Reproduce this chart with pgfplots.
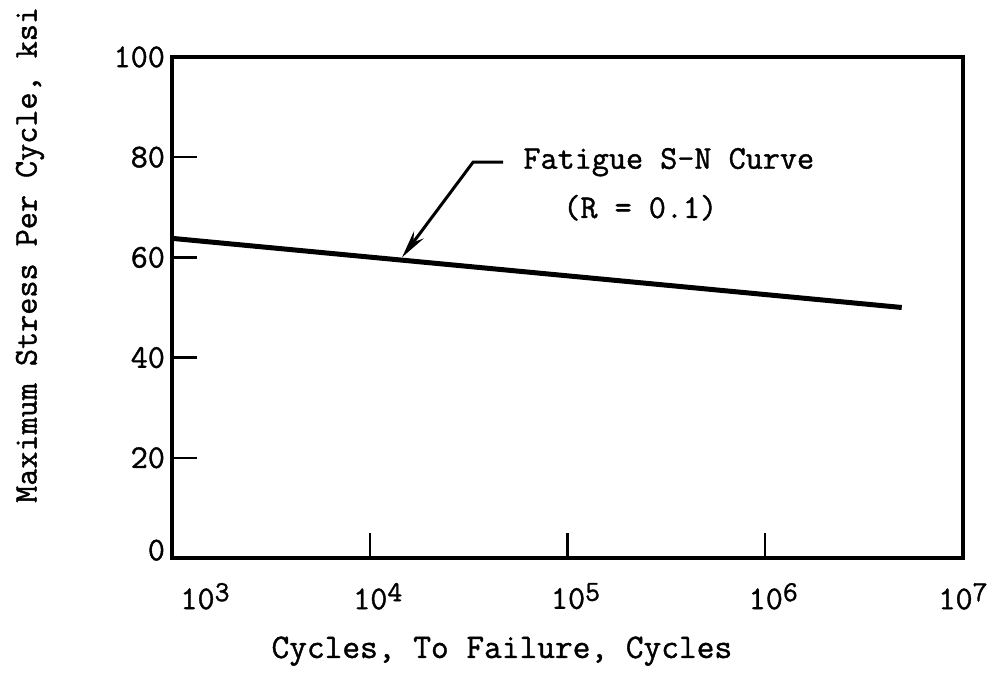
\documentclass[border=0pt]{standalone}
\usepackage{fontspec}
\setmonofont{Latin Modern Mono}[FakeBold=1.2]
\usepackage{pgfplots}
\pgfplotsset{compat=1.18}
\usetikzlibrary{arrows.meta}
\newcommand{\tw}{\fontsize{16.6}{20}\selectfont\ttfamily}
\newcommand{\twl}{\fontsize{17.2}{20}\selectfont\ttfamily}
\newcommand{\ex}[1]{\raisebox{4pt}{\fontsize{14.5}{14.5}\selectfont #1}}
\begin{document}
\begin{tikzpicture}
\begin{axis}[
  scale only axis,
  width=395.5pt, height=250.5pt,
  xmode=log, log basis x=10,
  xmin=1e3, xmax=1e7, ymin=0, ymax=100,
  xtick={1e3,1e4,1e5,1e6,1e7},
  xticklabels={\hspace*{33pt}10\ex{3},\hspace*{8pt}10\ex{4},\hspace*{8pt}10\ex{5},\hspace*{8pt}10\ex{6},10\ex{7}},
  ytick={0,20,40,60,80,100},
  yticklabels={\raisebox{8pt}{0},20,40,60,80,100},
  minor tick num=0, log ticks with fixed point,
  tick align=inside, xtick pos=bottom, ytick pos=left,
  major tick length=12.5pt,
  every tick/.style={black, line width=1.2pt},
  axis line style={line width=1.65pt, black},
  /pgf/number format/assume math mode=true,
  ticklabel style={font=\tw},
  xticklabel style={anchor=north, yshift=-9pt},
  yticklabel style={anchor=east},
  xlabel={Cycles, To Failure, Cycles},
  ylabel={Maximum Stress Per Cycle, ksi},
  every axis x label/.style={at={(axis description cs:0.417,-0.186)}, anchor=center, font=\twl},
  every axis y label/.style={at={(axis description cs:-0.1795,0.605)}, anchor=center, rotate=90, font=\tw},
  clip=false,
]
\addplot[black, line width=2.5pt] coordinates {(1e3,63.8) (4.9e6,50.0)};
\draw[black, line width=1.5pt, -{Stealth[length=14pt, width=6pt]}]
  (axis cs:4.72e4,79.0) -- (axis cs:3.33e4,79.0) -- (axis cs:1.456e4,60.0);
\node[anchor=west, font=\tw, inner sep=0pt] at (axis cs:5.96e4,79.0) {Fatigue S-N Curve};
\node[anchor=west, font=\tw, inner sep=0pt] at (axis cs:9.48e4,69.9) {(R = 0.1)};
\end{axis}
\pgfresetboundingbox
\path[use as bounding box] (-86pt,-57.5pt) rectangle (412pt,279pt);
\end{tikzpicture}
\end{document}
